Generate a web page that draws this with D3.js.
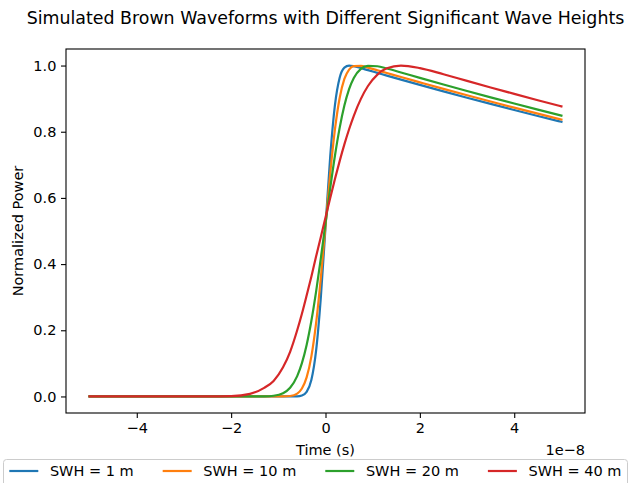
<!DOCTYPE html>
<html>
<head>
<meta charset="utf-8">
<script src="https://cdn.jsdelivr.net/npm/d3@7"></script>
<style>
  html, body { margin: 0; padding: 0; background: #fff; }
  svg { display: block; font-family: "DejaVu Sans", sans-serif; }
</style>
</head>
<body>
<svg id="chart" width="628" height="483"></svg>
<script>
// Time in units of 1e-8 s
const times = [-5, -3, -2.5, -2, -1.6, -1.3, -1.1, -0.9, -0.75, -0.6, -0.5, -0.4, -0.3, -0.2, -0.1, 0,
  0.1, 0.2, 0.3, 0.4, 0.5, 0.6, 0.75, 0.9, 1.1, 1.3, 1.6, 2, 2.5, 3, 3.5, 4, 4.5, 5];

const swh1 = [0, 0, 0, 0, 0, 0, 0, 0, 0, 0.0002, 0.0028, 0.0137, 0.0496, 0.1376, 0.2974, 0.512,
  0.7248, 0.8801, 0.9629, 0.9938, 1.0, 0.9981, 0.9923, 0.986, 0.9778, 0.9696, 0.9574, 0.9415, 0.922, 0.9028, 0.884, 0.8657, 0.8477, 0.83];
const swh10 = [0, 0, 0, 0, 0, 0, 0, 0.0002, 0.0014, 0.0087, 0.024, 0.0575, 0.1203, 0.2206, 0.3572, 0.5162,
  0.6738, 0.8068, 0.9021, 0.9595, 0.9879, 0.9984, 0.999, 0.9939, 0.9857, 0.9775, 0.9652, 0.9492, 0.9294, 0.9101, 0.8912, 0.8727, 0.8546, 0.8368];
const swh20 = [0, 0, 0, 0, 0, 0.0003, 0.0021, 0.0097, 0.0262, 0.0614, 0.1006, 0.1557, 0.228, 0.3161, 0.4167, 0.5236,
  0.6295, 0.7275, 0.8117, 0.8791, 0.9289, 0.9627, 0.9901, 0.9993, 0.9979, 0.9911, 0.9791, 0.9628, 0.9428, 0.9232, 0.904, 0.8852, 0.8668, 0.8488];
const swh40 = [0, 0, 0.0001, 0.001, 0.008, 0.026, 0.047, 0.088, 0.135, 0.2, 0.25, 0.305, 0.362, 0.4226, 0.4814, 0.5408,
  0.5997, 0.6569, 0.7112, 0.7616, 0.8074, 0.8482, 0.8992, 0.9381, 0.9727, 0.9916, 1.0, 0.9923, 0.9736, 0.9535, 0.9337, 0.9143, 0.8953, 0.8767];

const seriesNames = ["SWH = 1 m", "SWH = 10 m", "SWH = 20 m", "SWH = 40 m"];
const seriesValues = [swh1, swh10, swh20, swh40];
const seriesColors = ["#1f77b4", "#ff7f0e", "#2ca02c", "#d62728"];
const xTicks = [-4, -2, 0, 2, 4];
const yTicks = [0, 0.2, 0.4, 0.6, 0.8, 1.0];

const svg = d3.select("#chart");
const mLeft = 66, mRight = 585, mTop = 49, mBottom = 413;
const fs = 14.5;

const x = d3.scaleLinear().domain([-5.5, 5.5]).range([mLeft, mRight]);
const y = d3.scaleLinear().domain([-0.05, 1.05]).range([mBottom, mTop]);

const minus = v => (v < 0 ? "\u2212" + Math.abs(v) : String(v));

// Lines
const line = d3.line()
  .x((d, i) => x(times[i]))
  .y(d => y(d))
  .curve(d3.curveMonotoneX);

const plot = svg.append("g");
seriesValues.forEach((vals, k) => {
  plot.append("path")
    .datum(vals)
    .attr("d", line)
    .attr("fill", "none")
    .attr("stroke", seriesColors[k])
    .attr("stroke-width", 2.2)
    .attr("stroke-linejoin", "round")
    .attr("stroke-linecap", "square");
});

// Axes
const xAxis = d3.axisBottom(x).tickValues(xTicks).tickFormat(minus).tickSize(5).tickPadding(4.6);
const yAxis = d3.axisLeft(y).tickValues(yTicks).tickFormat(d3.format(".1f")).tickSize(5).tickPadding(4.6);

const gx = svg.append("g").attr("transform", `translate(0,${mBottom})`).call(xAxis);
const gy = svg.append("g").attr("transform", `translate(${mLeft},0)`).call(yAxis);
[gx, gy].forEach(g => {
  g.select(".domain").remove();
  g.selectAll(".tick line").attr("stroke", "#000").attr("stroke-width", 1.1);
  g.selectAll(".tick text").attr("fill", "#000").style("font-size", fs + "px").style("font-family", "DejaVu Sans");
});

// Frame
svg.append("rect")
  .attr("x", mLeft).attr("y", mTop)
  .attr("width", mRight - mLeft).attr("height", mBottom - mTop)
  .attr("fill", "none").attr("stroke", "#000").attr("stroke-width", 1.1);

// Title
svg.append("text")
  .attr("x", (mLeft + mRight) / 2).attr("y", 24)
  .attr("text-anchor", "middle")
  .style("font-size", "17.4px")
  .text("Simulated Brown Waveforms with Different Significant Wave Heights");

// Axis labels
svg.append("text")
  .attr("x", (mLeft + mRight) / 2).attr("y", 455)
  .attr("text-anchor", "middle")
  .style("font-size", fs + "px")
  .text("Time (s)");

svg.append("text")
  .attr("transform", `translate(23,${(mTop + mBottom) / 2}) rotate(-90)`)
  .attr("text-anchor", "middle")
  .style("font-size", fs + "px")
  .text("Normalized Power");

svg.append("text")
  .attr("x", mRight).attr("y", 455)
  .attr("text-anchor", "end")
  .style("font-size", fs + "px")
  .text("1e\u22128");

// Legend
const lg = svg.append("g");
lg.append("rect")
  .attr("x", 3.5).attr("y", 459.5)
  .attr("width", 624).attr("height", 32)
  .attr("rx", 3).attr("ry", 3)
  .attr("fill", "#fff").attr("fill-opacity", 0.8)
  .attr("stroke", "#cccccc").attr("stroke-width", 1);

let cx = 9.3;
const ly = 471;
seriesNames.forEach((name, k) => {
  lg.append("line")
    .attr("x1", cx).attr("x2", cx + 2 * fs)
    .attr("y1", ly).attr("y2", ly)
    .attr("stroke", seriesColors[k]).attr("stroke-width", 2.2);
  const t = lg.append("text")
    .attr("x", cx + 2.8 * fs).attr("y", ly + 5.3)
    .style("font-size", fs + "px")
    .text(name);
  const w = t.node().getComputedTextLength();
  cx = cx + 2.8 * fs + w + 2 * fs;
});
</script>
</body>
</html>
